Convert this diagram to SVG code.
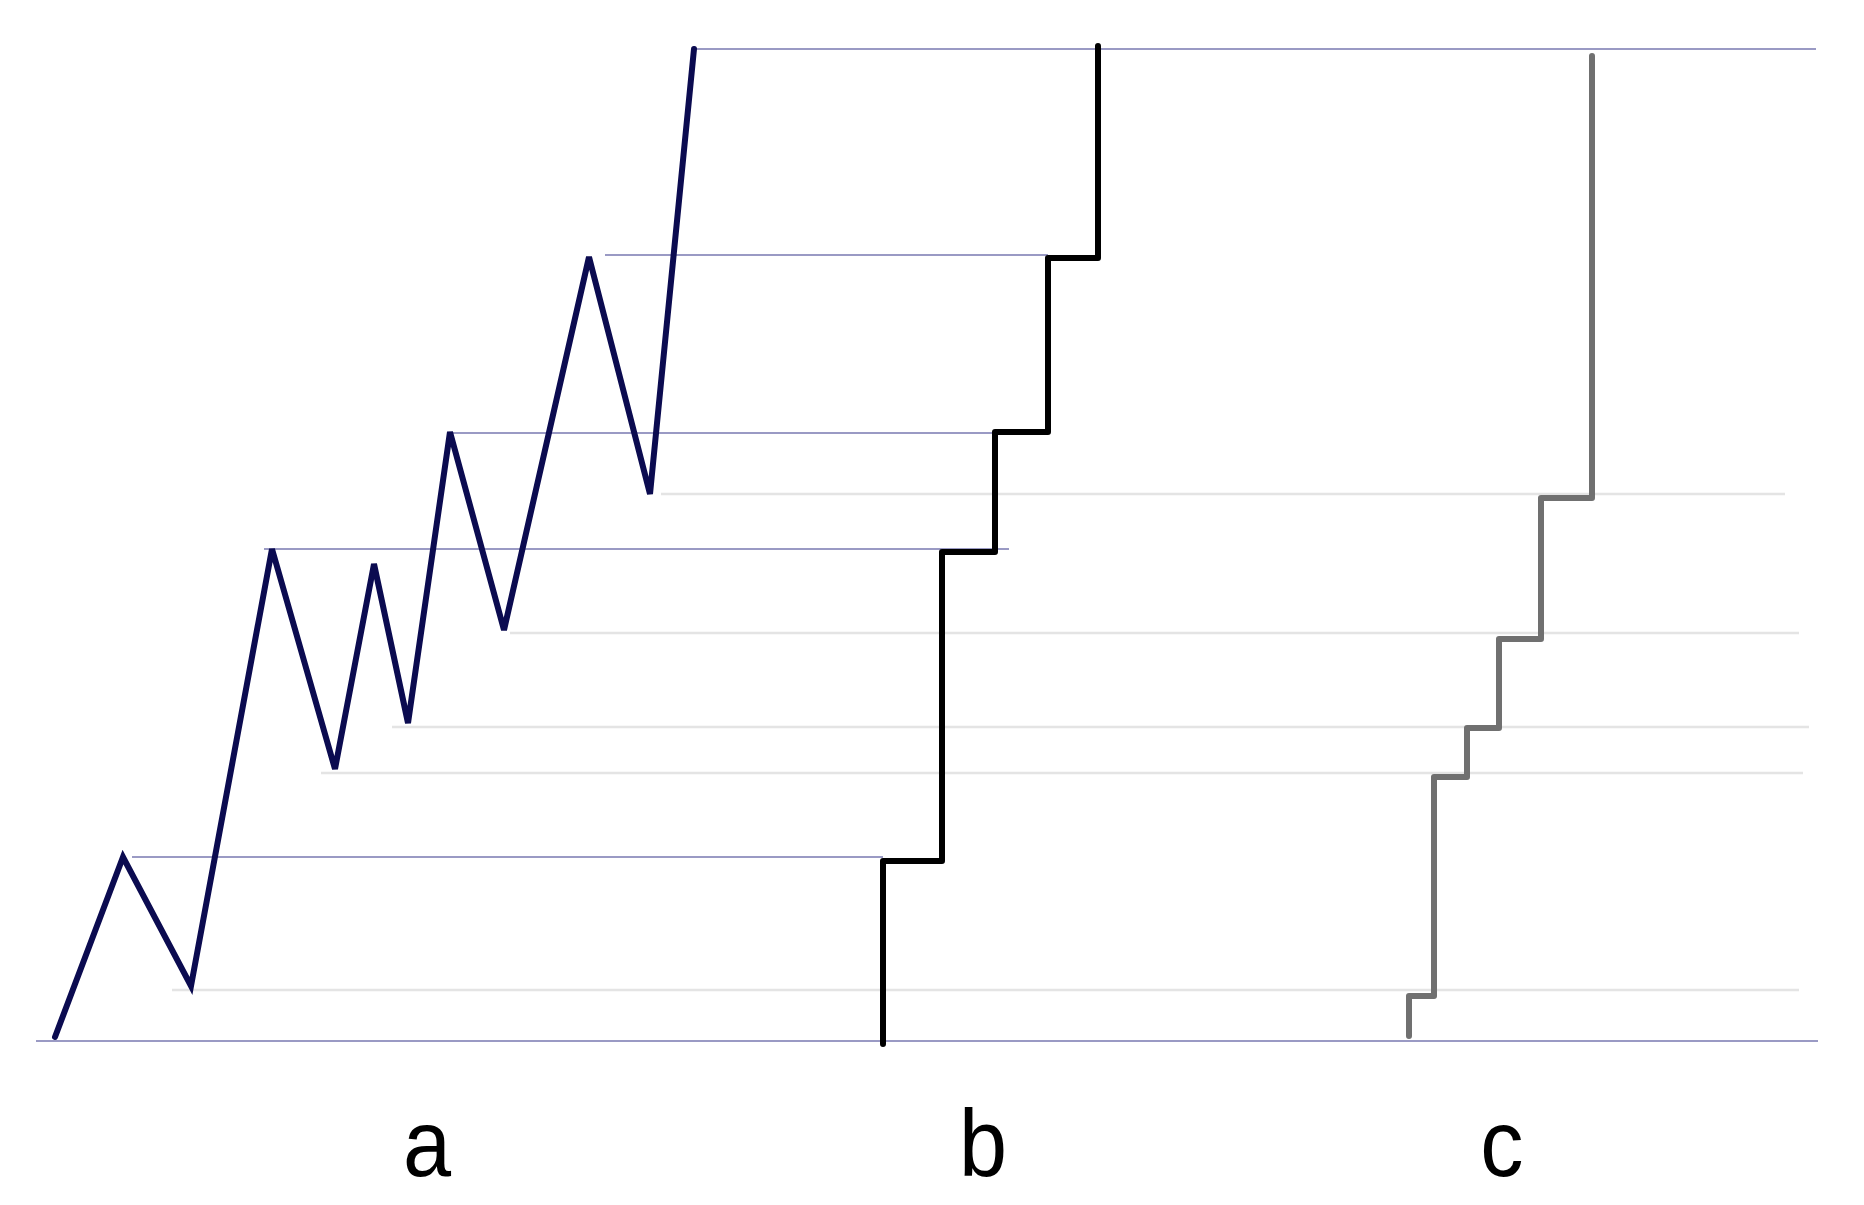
<svg xmlns="http://www.w3.org/2000/svg" width="1864" height="1205" viewBox="0 0 1864 1205">
<style>
.blue{stroke:#9a9ac4;stroke-width:2;fill:none}
.light{stroke:#e4e4e4;stroke-width:2.5;fill:none}
.zig{stroke:#0b0b50;stroke-width:6;fill:none;stroke-linejoin:miter;stroke-linecap:round}
.stairb{stroke:#000;stroke-width:6;fill:none;stroke-linejoin:round;stroke-linecap:round}
.stairc{stroke:#707070;stroke-width:6;fill:none;stroke-linejoin:round;stroke-linecap:round}
.lbl{font-family:"Liberation Sans",Arial,sans-serif;font-size:94px;fill:#000;text-anchor:middle}
</style>
<rect width="1864" height="1205" fill="#fff"/>
<g id="guides">
<line class="light" x1="661" y1="494" x2="1785" y2="494"/>
<line class="light" x1="510" y1="633" x2="1799" y2="633"/>
<line class="light" x1="392" y1="727" x2="1809" y2="727"/>
<line class="light" x1="321" y1="773" x2="1803" y2="773"/>
<line class="light" x1="172" y1="990" x2="1799" y2="990"/>
<line class="blue" x1="694" y1="49" x2="1816" y2="49"/>
<line class="blue" x1="605" y1="255" x2="1048" y2="255"/>
<line class="blue" x1="452" y1="433" x2="995" y2="433"/>
<line class="blue" x1="264" y1="549" x2="1009" y2="549"/>
<line class="blue" x1="132" y1="857" x2="883" y2="857"/>
<line class="blue" x1="36" y1="1041" x2="1818" y2="1041"/>
</g>
<g id="curve-a">
<polyline class="zig" points="55,1037 123,857 191,986 272,549 335,769 374,564 408,723 450,432 504,630 589,257 650,494 694,49"/>
</g>
<g id="curve-b">
<path class="stairb" d="M1098,46 V258 H1048 V432 H995 V552 H942 V861 H883 V1044"/>
</g>
<g id="curve-c">
<path class="stairc" d="M1592,56 V498 H1541 V639 H1499 V728 H1467 V777 H1434 V996 H1409 V1036"/>
</g>
<g id="labels">
<text class="lbl" x="427" y="1176" transform="translate(427 0) scale(0.92 1) translate(-427 0)">a</text>
<text class="lbl" x="983" y="1176" transform="translate(983 0) scale(0.92 1) translate(-983 0)">b</text>
<text class="lbl" x="1502" y="1176" transform="translate(1502 0) scale(0.92 1) translate(-1502 0)">c</text>
</g>
</svg>
